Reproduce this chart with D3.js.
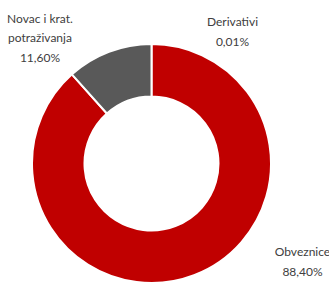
<!DOCTYPE html>
<html>
<head>
<meta charset="utf-8">
<script src="https://cdn.jsdelivr.net/npm/d3@7"></script>
<style>
  body { margin: 0; background: #fff; }
  svg { display: block; }
  text { font-family: Lato, "Open Sans", sans-serif; font-size: 12px; fill: #404040; }
</style>
</head>
<body>
<svg id="chart" width="329" height="283"></svg>
<script>
// categories in drawing order, clockwise from 12 o'clock
const categories = ["Derivativi", "Obveznice", "Novac i krat. potraživanja"];
const shares = [0.01, 88.40, 11.60];
const shareLabels = ["0,01%", "88,40%", "11,60%"];
const colors = ["#c00000", "#c00000", "#595959"];

const renderDonut = function(target_id){
    let svg = d3.select('#' + target_id),
        width = +svg.attr('width'),
        height = +svg.attr('height');

    let cx = 151.5, cy = 163.5,
        outer = 119.5, inner = 67;

    let data = categories.map(function(c, i){
        return {name: c, value: shares[i], label: shareLabels[i], color: colors[i]};
    });

    let pie = d3.pie().sort(null).value(function(d){ return d.value });
    let arc = d3.arc().innerRadius(inner).outerRadius(outer);

    let g = svg.append('g').attr('transform', 'translate(' + cx + ',' + cy + ')');

    g.selectAll('path')
        .data(pie(data))
        .enter()
        .append('path')
        .attr('d', arc)
        .style('fill', function(d){ return d.data.color })
        .style('stroke', '#fff')
        .style('stroke-width', 2);

    // label spots (offsets from centre) picked to match the source layout
    let labelPos = {
        "Derivativi": [81, -131.5],
        "Obveznice": [151, 98.5],
        "Novac i krat. potraživanja": [-111.5, -125.5]
    };
    let lineH = 19.5;

    data.forEach(function(d){
        let lines = d.name == "Novac i krat. potraživanja"
            ? ["Novac i krat.", "potraživanja"] : [d.name];
        lines.push(d.label);
        let p = labelPos[d.name];
        let t = g.append('text')
            .attr('text-anchor', 'middle')
            .attr('x', p[0])
            .attr('y', p[1] - (lines.length - 1) * lineH / 2);
        lines.forEach(function(l, i){
            t.append('tspan')
                .attr('x', p[0])
                .attr('dy', i == 0 ? '0.35em' : lineH)
                .text(l);
        });
    });
};

renderDonut('chart');
</script>
</body>
</html>
